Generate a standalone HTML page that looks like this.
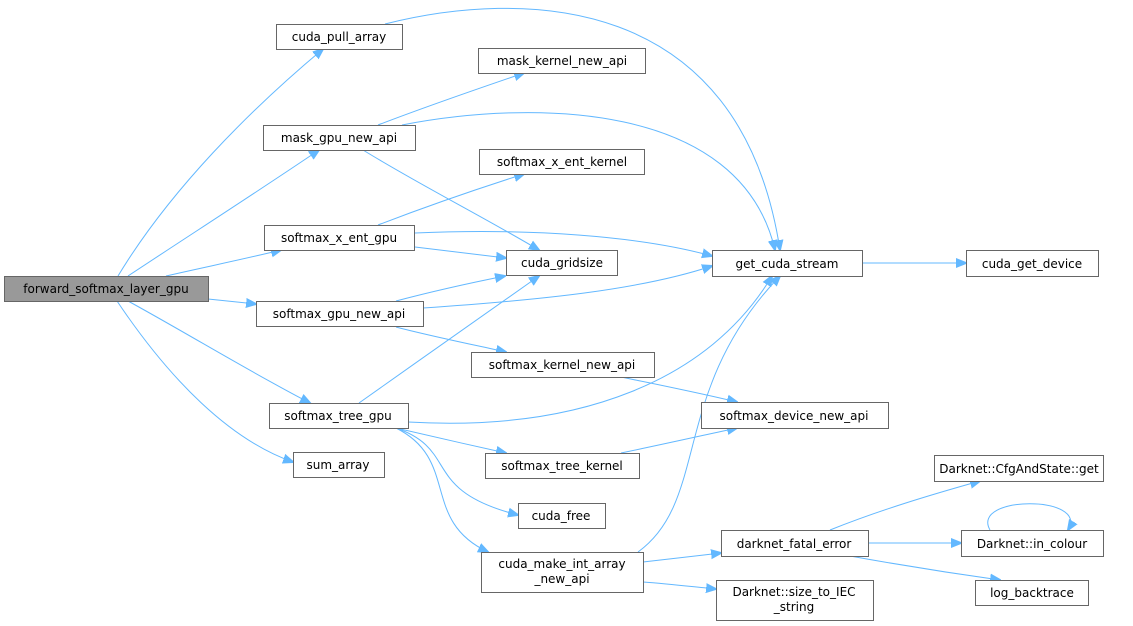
<!DOCTYPE html>
<html><head><style>
html,body{margin:0;padding:0;background:#fff;}
svg{display:block;}
text{font-family:"DejaVu Sans","Liberation Sans",sans-serif;font-size:12px;fill:#000;text-anchor:middle;}
rect{fill:#fff;stroke:#666;stroke-width:1;}
path{fill:none;stroke:#63b8ff;stroke-width:1;}
</style></head><body>
<svg width="1133" height="626" viewBox="0 0 1133 626" xmlns="http://www.w3.org/2000/svg">
<defs><marker id="a" viewBox="0 0 10 10" refX="9" refY="5" markerWidth="11" markerHeight="11" markerUnits="userSpaceOnUse" orient="auto"><path d="M0,1 L10,5 L0,9 z" style="fill:#63b8ff;stroke:#63b8ff"/></marker></defs>
<g marker-end="url(#a)">
<path d="M118,276 C170,190 250,110 323,49"/>
<path d="M128,276 C190,235 260,190 319,150"/>
<path d="M166,276 C205,267 245,259 281,250"/>
<path d="M208,299 L256,304"/>
<path d="M128,301 C190,335 250,372 310,403"/>
<path d="M117,301 C170,380 230,440 293,462"/>
<path d="M385,24 C520,-10 740,-10 780,250"/>
<path d="M378,125 C430,105 480,88 524,73"/>
<path d="M402,125 C530,100 740,100 775,250"/>
<path d="M363,150 C420,185 480,215 539,250"/>
<path d="M378,225 C430,205 480,188 524,174"/>
<path d="M415,233 C530,228 640,236 712,256"/>
<path d="M415,247 L506,258"/>
<path d="M396,301 C430,292 470,283 505,276"/>
<path d="M423,308 C540,300 640,290 712,266"/>
<path d="M396,327 C430,336 470,344 506,352"/>
<path d="M359,403 C420,360 490,310 539,276"/>
<path d="M408,422 C580,432 710,380 772,276"/>
<path d="M621,377 C660,385 700,393 737,402"/>
<path d="M396,428 C430,436 470,445 506,453"/>
<path d="M621,453 C660,445 700,436 737,428"/>
<path d="M396,428 C460,450 420,490 518,515"/>
<path d="M396,428 C460,460 420,520 488,552"/>
<path d="M638,552 C710,500 670,390 780,276"/>
<path d="M643,562 C670,559 695,556 721,553"/>
<path d="M643,582 C670,584 695,587 716,589"/>
<path d="M862,263 L966,263"/>
<path d="M830,530 C880,510 930,495 980,481"/>
<path d="M868,543 L961,543"/>
<path d="M850,556 C900,565 950,573 1000,580"/>
<path d="M990,530 C970,495 1090,495 1068,530"/>
</g>
<rect x="4.5" y="276.5" width="204" height="25" style="fill:#999"/><text x="106" y="293">forward_softmax_layer_gpu</text>
<rect x="276.5" y="24.5" width="126" height="25"/><text x="339" y="41">cuda_pull_array</text>
<rect x="478.5" y="48.5" width="167" height="25"/><text x="562" y="65">mask_kernel_new_api</text>
<rect x="263.5" y="125.5" width="152" height="25"/><text x="339" y="142">mask_gpu_new_api</text>
<rect x="479.5" y="149.5" width="165" height="25"/><text x="562" y="166">softmax_x_ent_kernel</text>
<rect x="264.5" y="225.5" width="150" height="25"/><text x="339" y="242">softmax_x_ent_gpu</text>
<rect x="506.5" y="250.5" width="111" height="25"/><text x="562" y="267">cuda_gridsize</text>
<rect x="256.5" y="301.5" width="167" height="25"/><text x="339" y="318">softmax_gpu_new_api</text>
<rect x="471.5" y="352.5" width="183" height="25"/><text x="562" y="369">softmax_kernel_new_api</text>
<rect x="269.5" y="403.5" width="139" height="25"/><text x="338" y="420">softmax_tree_gpu</text>
<rect x="293.5" y="452.5" width="91" height="25"/><text x="338" y="469">sum_array</text>
<rect x="485.5" y="453.5" width="154" height="25"/><text x="562" y="470">softmax_tree_kernel</text>
<rect x="518.5" y="503.5" width="87" height="25"/><text x="561" y="520">cuda_free</text>
<rect x="481.5" y="552.5" width="162" height="40"/><text x="562" y="568">cuda_make_int_array</text><text x="562" y="583">_new_api</text>
<rect x="701.5" y="402.5" width="187" height="26"/><text x="794" y="420">softmax_device_new_api</text>
<rect x="721.5" y="530.5" width="147" height="26"/><text x="794" y="548">darknet_fatal_error</text>
<rect x="716.5" y="580.5" width="157" height="40"/><text x="794" y="596">Darknet::size_to_IEC</text><text x="794" y="611">_string</text>
<rect x="712.5" y="250.5" width="150" height="26"/><text x="787" y="268">get_cuda_stream</text>
<rect x="966.5" y="250.5" width="132" height="26"/><text x="1032" y="268">cuda_get_device</text>
<rect x="934.5" y="455.5" width="169" height="26"/><text x="1019" y="473">Darknet::CfgAndState::get</text>
<rect x="961.5" y="530.5" width="142" height="26"/><text x="1032" y="548">Darknet::in_colour</text>
<rect x="975.5" y="580.5" width="113" height="25"/><text x="1032" y="597">log_backtrace</text>
</svg>
</body></html>
